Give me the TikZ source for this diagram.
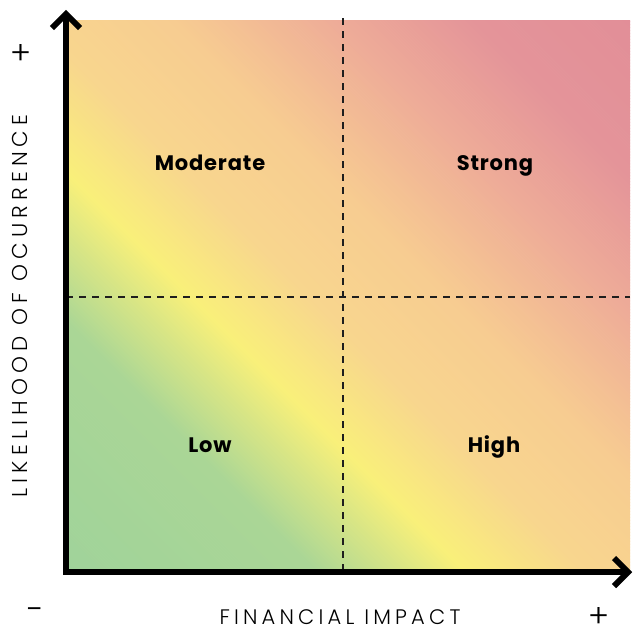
\documentclass[tikz,border=0pt]{standalone}
\usepackage{fontspec}
\setmainfont{Poppins}
\IfFontExistsTF{Poppins Light}{\newfontfamily\lightfont[LetterSpace=20]{Poppins Light}\newfontfamily\ylightfont[LetterSpace=24]{Poppins Light}\newfontfamily\signfont{Poppins Light}}{\newfontfamily\lightfont[LetterSpace=20]{Poppins}\newfontfamily\ylightfont[LetterSpace=24]{Poppins}\newfontfamily\signfont{Poppins}}
\newfontfamily\quadfont[LetterSpace=4]{Poppins Bold}
\definecolor{gA}{RGB}{160,211,154}
\definecolor{gB}{RGB}{170,214,150}
\definecolor{yA}{RGB}{249,240,122}
\definecolor{pA}{RGB}{248,214,142}
\definecolor{pB}{RGB}{247,204,145}
\definecolor{sA}{RGB}{238,172,152}
\definecolor{rA}{RGB}{228,148,153}
\definecolor{rB}{RGB}{226,142,152}
\definecolor{dashcol}{RGB}{30,30,30}
\begin{document}
\begin{tikzpicture}[x=1pt,y=-1pt,
  axis/.style={line width=6pt, line join=miter, miter limit=10},
  quadline/.style={line width=1.4pt, dashcol, dash pattern=on 7pt off 6pt},
  quadlabel/.style={inner sep=0pt, anchor=base, font=\quadfont\fontsize{21}{21}\selectfont},
  axlabel/.style={inner sep=0pt, font=\lightfont\fontsize{21}{21}\selectfont},
  yaxlabel/.style={inner sep=0pt, font=\ylightfont\fontsize{21.5}{21.5}\selectfont},
  signlabel/.style={inner sep=0pt, font=\signfont\fontsize{32}{32}\selectfont}]
\useasboundingbox (0,0) rectangle (633,630);
% gradient field
\begin{scope}
\clip (66,20) rectangle (630,572);
\foreach \ua/\ub/\ca/\cb in {0/250/gA/gB, 250/400/gB/yA, 400/520/yA/pA, 520/660/pA/pB, 660/820/pB/sA, 820/960/sA/rA, 960/1120/rA/rB}{
  \pgfmathtruncatemacro{\n}{ceil((\ub-\ua)/3)}
  \pgfmathsetmacro{\w}{(\ub-\ua)/\n}
  \foreach \i in {1,...,\n}{
    \pgfmathsetmacro{\vs}{\ua+(\i-1)*\w-506}
    \pgfmathsetmacro{\ve}{\ua+\i*\w-506+0.8}
    \pgfmathsetmacro{\p}{100*(1-(\i-0.5)/\n)}
    \fill[\ca!\p!\cb] (\vs+600,600) -- (\ve+600,600) -- (\ve-600,-600) -- (\vs-600,-600) -- cycle;
  }
}
\end{scope}
% quadrant lines
\coordinate (vt) at (343,18);
\coordinate (vb) at (343,572);
\coordinate (hl) at (66,297);
\coordinate (hr) at (630,297);
\draw[quadline] (vt) -- (vb);
\draw[quadline] (hl) -- (hr);
% axes
\coordinate (O) at (66,572);
\coordinate (Ytop) at (66,14);
\coordinate (Xend) at (628,572);
\draw[axis] (Ytop) -- (O) -- (Xend);
\draw[axis] ([shift={(-14,14)}]Ytop) -- (Ytop) -- ([shift={(14,14)}]Ytop);
\draw[axis] ([shift={(-14,-14)}]Xend) -- (Xend) -- ([shift={(-14,14)}]Xend);
% quadrant labels
\node[quadlabel] (mod) at (210,170) {Moderate};
\node[quadlabel] (str) at (495,170) {Strong};
\node[quadlabel] (low) at (210,452) {Low};
\node[quadlabel] (hig) at (494,452) {High};
% axis labels
\node[axlabel, anchor=base] (xl) at (340,624) {FINANCIAL IMPACT};
\node[yaxlabel, rotate=90] (yl) at (20,306) {LIKELIHOOD OF OCURRENCE};
\node[signlabel] (yplus) at (21,54) {+};
\node[signlabel, anchor=base] (minus) at (36,620) {-};
\node[signlabel] (xplus) at (599,617) {+};
\end{tikzpicture}
\end{document}
